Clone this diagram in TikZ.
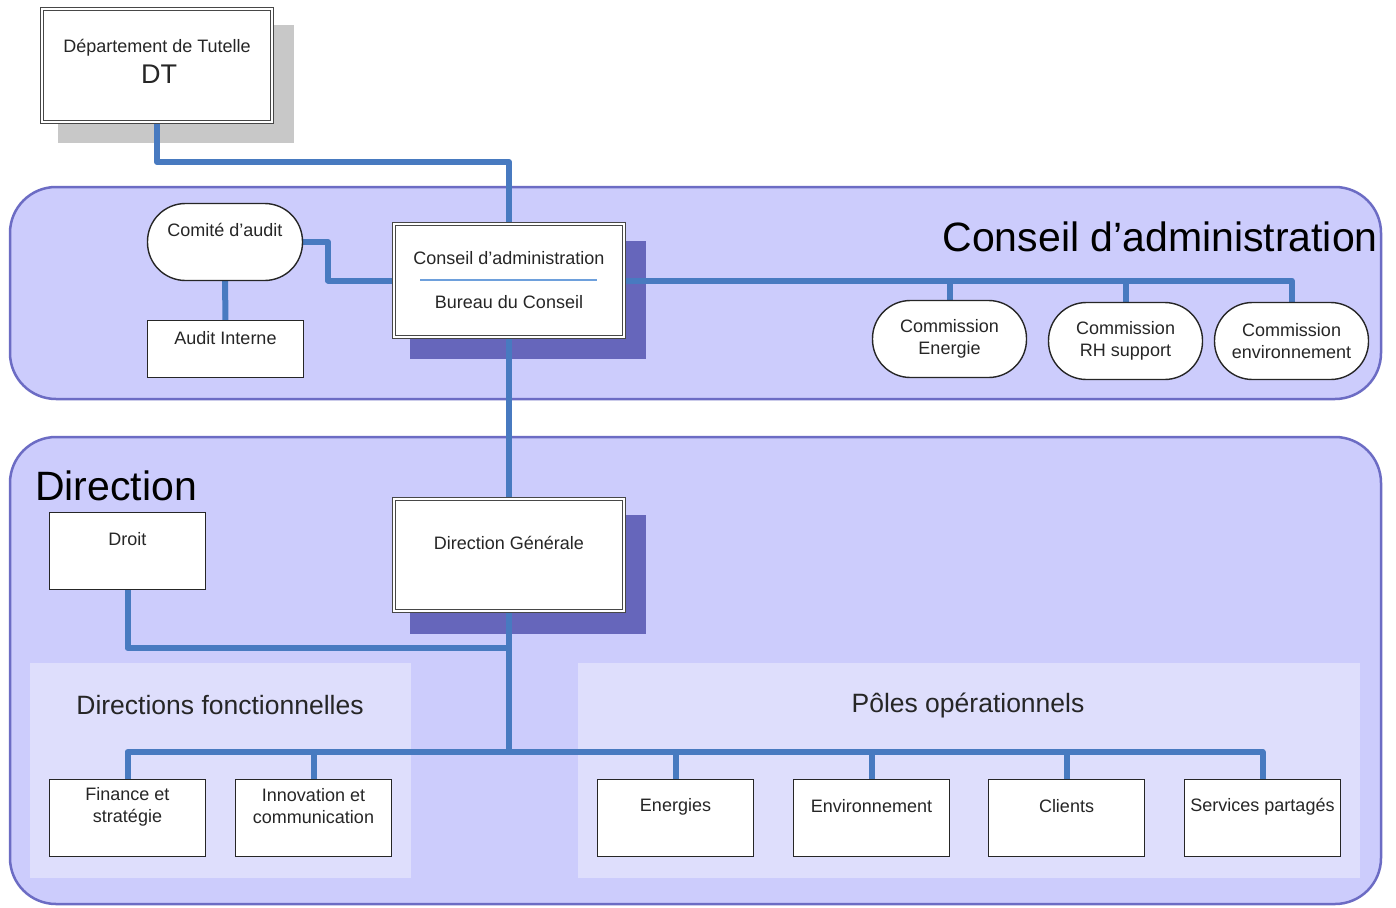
\documentclass[tikz,border=0pt]{standalone}
\usepackage{fontspec}
\setmainfont{Liberation Sans}
\pgfdeclarelayer{back}
\pgfdeclarelayer{links}
\pgfsetlayers{back,links,main}
\definecolor{bandfill}{RGB}{204,204,252}
\definecolor{bandline}{RGB}{108,108,196}
\definecolor{panelfill}{RGB}{222,222,252}
\definecolor{linkblue}{RGB}{72,122,192}
\definecolor{shadowpurple}{RGB}{102,102,187}
\definecolor{shadowgray}{RGB}{200,200,200}
\definecolor{rulerblue}{RGB}{110,160,220}
\begin{document}
\begin{tikzpicture}[x=1pt,y=-1pt,
  band/.style={draw=bandline, line width=2.5pt, fill=bandfill, rounded corners=46pt},
  unit/.style={draw=black!85, line width=1.4pt, fill=white, inner sep=0pt, outer sep=0pt,
               minimum width=156pt, minimum height=77pt},
  pill/.style={unit, rounded corners=38pt, minimum width=154pt},
  chief/.style={draw=black!72, double=white, double distance=1.4pt, line width=1.6pt,
                fill=white, inner sep=0pt, outer sep=0pt, minimum width=230pt, minimum height=112pt},
  link/.style={draw=linkblue, line width=6pt, line join=round},
  lbl/.style={font=\fontsize{18}{22}\selectfont, text=black!85, align=center, inner sep=0pt},
  head/.style={font=\fontsize{41}{48}\selectfont, text=black, inner sep=0pt},
  sub/.style={font=\fontsize{26.5}{30}\selectfont, text=black!85, inner sep=0pt},
]
\useasboundingbox (0,0) rectangle (1396,907);

% background bands, panels and shadows
\begin{pgfonlayer}{back}
  \fill[white] (0,0) rectangle (1396,907);
  \draw[band] (10,187) rectangle (1381,399);
  \draw[band] (10,437) rectangle (1381,904);
  \fill[panelfill] (30,663) rectangle (411,878);
  \fill[panelfill] (578,663) rectangle (1360,878);
  \fill[shadowgray] (58,25) rectangle (294,143);
  \fill[shadowpurple] (410,241) rectangle (646,359);
  \fill[shadowpurple] (410,515) rectangle (646,634);
\end{pgfonlayer}

% band titles
\node[head, anchor=east] (tca) at (1378,237) {Conseil d’administration};
\node[head, anchor=west] (tdir) at (35,486) {Direction};
\node[sub] (tfonc) at (220,705) {Directions fonctionnelles};
\node[sub] (tpoles) at (968,705) {Pôles opérationnels};

% supervising department
\node[chief, minimum height=113pt] (dt) at (157,65.5) {};
\node[lbl] (dt-a) at (157,48) {Département de Tutelle};
\node[lbl, font=\fontsize{27}{30}\selectfont] (dt-b) at (159,74) {DT};

% board
\node[chief, minimum height=113pt] (ca) at (509,280.5) {};
\node[lbl] (ca-a) at (509,258) {Conseil d’administration};
\node[lbl] (ca-b) at (509,302) {Bureau du Conseil};
\draw[rulerblue, line width=1.3pt] (420,280) -- (597,280);

\node[pill, minimum width=155pt] (comite) at (225,242) {};
\node[lbl] (comite-t) at (225,230) {Comité d’audit};
\node[unit, minimum height=57pt] (audit) at (225.5,349) {};
\node[lbl] (audit-t) at (225.5,338) {Audit Interne};

\node[pill] (cen) at (949.5,339) {};
\node[lbl] (cen-t) at (949.5,339) {Commission\\Energie};
\node[pill] (crh) at (1125.5,341) {};
\node[lbl] (crh-t) at (1125.5,341) {Commission\\RH support};
\node[pill] (cenv) at (1291.5,341) {};
\node[lbl] (cenv-t) at (1291.5,341) {Commission\\environnement};

% management
\node[chief] (dg) at (509,555) {};
\node[lbl] (dg-t) at (509,543) {Direction Générale};
\node[unit] (droit) at (127.5,551) {};
\node[lbl] (droit-t) at (127.5,539) {Droit};

\node[unit] (fin) at (127.5,818) {};
\node[lbl] (fin-t) at (127.5,807) {Finance et\\stratégie};
\node[unit] (inno) at (313.5,818) {};
\node[lbl] (inno-t) at (313.5,806) {Innovation et\\communication};
\node[unit] (ener) at (675.5,818) {};
\node[lbl] (ener-t) at (675.5,807) {Energies};
\node[unit] (envi) at (871.5,818) {};
\node[lbl] (envi-t) at (871.5,806) {Environnement};
\node[unit] (cli) at (1066.5,818) {};
\node[lbl] (cli-t) at (1066.5,806) {Clients};
\node[unit] (serv) at (1262.5,818) {};
\node[lbl] (serv-t) at (1262.5,807) {Services partagés};

% routing points
\coordinate (dtbend) at (157,162);
\coordinate (cobend) at (328,242);
\coordinate (drjoin) at (509,648);
\coordinate (bus) at (509,752);
\coordinate (cbus) at (1292,280);

% connectors
\begin{pgfonlayer}{links}
  \draw[link] (dt.south) -- (dtbend) -| (ca.north);
  \draw[link] (comite.east) -- (cobend) |- (ca.west);
  \draw[link] (comite.south) -- (audit.north);
  \draw[link] (ca.east) -| (cenv.north);
  \draw[link] (cen.north) -- (cen.north |- cbus);
  \draw[link] (crh.north) -- (crh.north |- cbus);
  \draw[link] (ca.south) -- (dg.north);
  \draw[link] (dg.south) -- (bus);
  \draw[link] (droit.south) |- (drjoin);
  \draw[link] (bus) -| (fin.north);
  \draw[link] (bus) -| (inno.north);
  \draw[link] (bus) -| (ener.north);
  \draw[link] (bus) -| (envi.north);
  \draw[link] (bus) -| (cli.north);
  \draw[link] (bus) -| (serv.north);
\end{pgfonlayer}
\end{tikzpicture}
\end{document}
